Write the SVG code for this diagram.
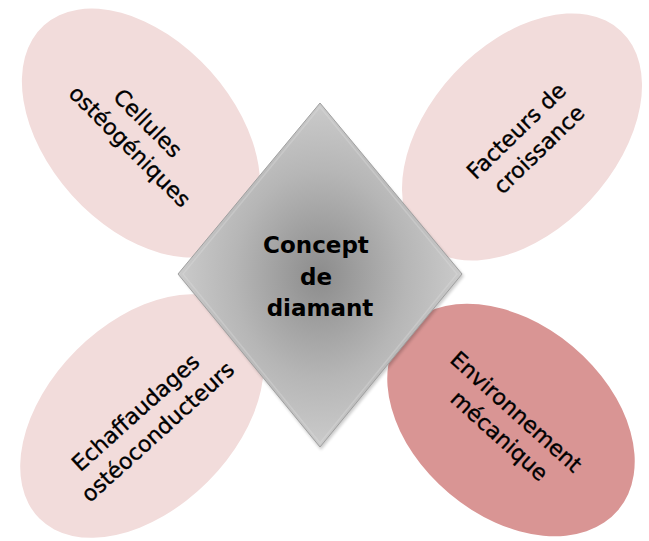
<svg xmlns="http://www.w3.org/2000/svg" width="649" height="541" viewBox="0 0 649 541">
  <defs>
    <radialGradient id="gem" cx="50%" cy="50%" r="55%">
      <stop offset="0" stop-color="#8c8c8c"/>
      <stop offset="0.55" stop-color="#b6b6b6"/>
      <stop offset="1" stop-color="#d0d0d0"/>
    </radialGradient>
    <filter id="soft" x="-10%" y="-10%" width="120%" height="120%">
      <feGaussianBlur stdDeviation="1.5"/>
    </filter>
    <style>
      .petal { fill: #f2dcdb; }
      .petal-hi { fill: #d99594; }
      .lbl { font-family: "DejaVu Sans", Verdana, sans-serif; font-size: 22px; fill: #000; stroke: #000; stroke-width: 0.35; text-anchor: middle; }
      .core { font-family: "DejaVu Sans", Verdana, sans-serif; font-size: 23px; font-weight: bold; fill: #000; text-anchor: middle; }
    </style>
  </defs>
  <rect width="649" height="541" fill="#ffffff"/>

  <g id="cellules">
    <ellipse class="petal" cx="141" cy="133" rx="145" ry="93" transform="rotate(48 141 133)"/>
    <text class="lbl" transform="translate(140 136) rotate(45)">
      <tspan x="0" y="-7">Cellules</tspan>
      <tspan x="0" y="22">ostéogéniques</tspan>
    </text>
  </g>

  <g id="facteurs">
    <ellipse class="petal" cx="522" cy="137" rx="145" ry="93" transform="rotate(-47 522 137)"/>
    <text class="lbl" transform="translate(529 139) rotate(-44)">
      <tspan x="0" y="-7">Facteurs de</tspan>
      <tspan x="0" y="22">croissance</tspan>
    </text>
  </g>

  <g id="echafaudages">
    <ellipse class="petal" cx="142" cy="416" rx="145" ry="93" transform="rotate(-45 142 416)"/>
    <text class="lbl" transform="translate(148 421) rotate(-42)">
      <tspan x="0" y="-7">Echaffaudages</tspan>
      <tspan x="0" y="22">ostéoconducteurs</tspan>
    </text>
  </g>

  <g id="environnement">
    <ellipse class="petal-hi" cx="511" cy="420" rx="140" ry="96" transform="rotate(40 511 420)"/>
    <text class="lbl" transform="translate(509 425) rotate(42)">
      <tspan x="0" y="-7">Environnement</tspan>
      <tspan x="0" y="22">mécanique</tspan>
    </text>
  </g>

  <g id="diamant">
    <polygon points="321,106 464,276 321,450 180,276" fill="#000" opacity="0.2" filter="url(#soft)"/>
    <polygon points="320,103 462,274 320,447 178,274" fill="url(#gem)" stroke="#a0a0a0" stroke-width="1"/>
    <polygon points="320,107 457,274 320,443 183,274" fill="none" stroke="#dcdcdc" stroke-width="1.5" opacity="0.35"/>
    <text class="core">
      <tspan x="320" y="253">Concept</tspan>
      <tspan x="320" y="285">de</tspan>
      <tspan x="320" y="316">diamant</tspan>
    </text>
  </g>
</svg>
